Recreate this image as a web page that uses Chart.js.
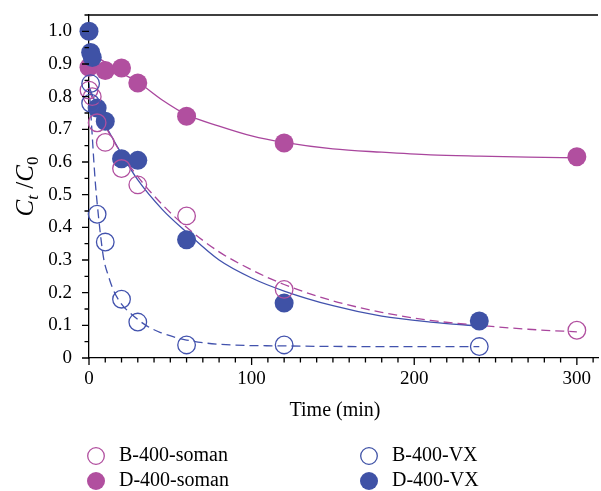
<!DOCTYPE html>
<html>
<head>
<meta charset="utf-8">
<script src="https://cdn.jsdelivr.net/npm/chart.js@4.4.0/dist/chart.umd.min.js"></script>
<style>
  html, body { margin: 0; padding: 0; background: #fff; }
</style>
</head>
<body>
<canvas id="myChart" width="601" height="491"></canvas>
<script>
// measured points (time in min, Ct/C0)
const tBSoman = [0, 2, 5, 10, 20, 30, 60, 120, 300];
const yBSoman = [0.82, 0.80, 0.72, 0.66, 0.58, 0.53, 0.435, 0.21, 0.085];

const tDSoman = [0, 10, 20, 30, 60, 120, 300];
const yDSoman = [0.89, 0.88, 0.888, 0.842, 0.74, 0.658, 0.616];

const tBVX = [1, 1, 5, 10, 20, 30, 60, 120, 240];
const yBVX = [0.84, 0.78, 0.44, 0.355, 0.18, 0.11, 0.04, 0.04, 0.035];

const tDVX = [0, 1, 2, 5, 10, 20, 30, 60, 120, 240];
const yDVX = [1.0, 0.935, 0.92, 0.765, 0.725, 0.61, 0.605, 0.362, 0.168, 0.113];

// fitted curves
const fitTBSoman = [0, 5, 10, 20, 30, 45, 60, 80, 100, 120, 150, 180, 210, 240, 270, 300];
const fitYBSoman = [0.82, 0.76, 0.71, 0.625, 0.555, 0.47, 0.40, 0.325, 0.27, 0.225, 0.175, 0.14, 0.115, 0.10, 0.088, 0.08];

const fitTDSoman = [0, 10, 20, 30, 45, 60, 80, 100, 120, 150, 180, 210, 240, 270, 300];
const fitYDSoman = [0.937, 0.905, 0.872, 0.845, 0.79, 0.745, 0.71, 0.68, 0.66, 0.64, 0.63, 0.622, 0.618, 0.615, 0.613];

const fitTBVX = [0, 1, 2, 3, 4, 5, 7, 9, 12, 15, 20, 26, 35, 44, 60, 80, 120, 180, 240];
const fitYBVX = [0.84, 0.76, 0.68, 0.6, 0.53, 0.475, 0.38, 0.305, 0.25, 0.208, 0.165, 0.135, 0.1, 0.078, 0.055, 0.042, 0.037, 0.035, 0.035];

const fitTDVX = [0, 5, 10, 20, 30, 45, 60, 80, 100, 120, 150, 180, 210, 240];
const fitYDVX = [0.83, 0.77, 0.715, 0.625, 0.545, 0.455, 0.385, 0.30, 0.245, 0.205, 0.16, 0.128, 0.11, 0.098];

const seriesNames = ['B-400-soman', 'D-400-soman', 'B-400-VX', 'D-400-VX'];

const xTicks = [0, 100, 200, 300];
const yTicks = [0, 0.1, 0.2, 0.3, 0.4, 0.5, 0.6, 0.7, 0.8, 0.9, 1.0];
const xTitle = 'Time (min)';

//colors
const magenta = '#b14f9f';
const magentaLine = '#a9469d';
const blue = '#3f52a6';
const blueLine = '#4252ad';

const fontFamily = "'Liberation Serif', 'DejaVu Serif', serif";

function toPoints(xs, ys){
    return xs.map((x, i) => ({x: x, y: ys[i]}));
}

function markerSet(label, xs, ys, color, filled, order){
    return {
        label: label,
        data: toPoints(xs, ys),
        showLine: false,
        pointRadius: filled ? 9.5 : 8.8,
        pointBorderWidth: filled ? 0 : 1.3,
        pointBorderColor: color,
        pointBackgroundColor: filled ? color : 'rgba(0,0,0,0)',
        clip: false,
        order: order
    };
}

function fitSet(xs, ys, color, dashed){
    return {
        label: '',
        data: toPoints(xs, ys),
        showLine: true,
        pointRadius: 0,
        borderColor: color,
        borderWidth: 1.3,
        borderDash: dashed ? [9, 5] : [],
        cubicInterpolationMode: 'monotone',
        fill: false,
        order: 10
    };
}

// ticks (major + minor), top frame line and x title
const tickPlugin = {
    id: 'ticks',
    afterDraw(chart){
        const ctx = chart.ctx;
        const xs = chart.scales.x, ys = chart.scales.y;
        const area = chart.chartArea;
        ctx.save();
        ctx.strokeStyle = '#000';
        ctx.lineWidth = 1.3;
        ctx.beginPath();
        for (let v = 0; v <= 310; v += 10){
            const px = xs.getPixelForValue(v);
            const len = (v % 100 === 0) ? 7 : 4.5;
            ctx.moveTo(px, area.bottom);
            ctx.lineTo(px, area.bottom + len);
        }
        for (let i = 0; i <= 21; i++){
            const v = i * 0.05;
            const py = ys.getPixelForValue(v);
            const len = (i % 2 === 0) ? 7 : 4.5;
            ctx.moveTo(area.left, py);
            ctx.lineTo(area.left - len, py);
        }
        ctx.moveTo(area.left, area.top);
        ctx.lineTo(area.right, area.top);
        ctx.stroke();

        ctx.fillStyle = '#000';
        ctx.font = '20px ' + fontFamily;
        ctx.textAlign = 'center';
        ctx.textBaseline = 'middle';
        ctx.fillText(xTitle, 335, 411);
        ctx.restore();
    }
};

// y axis title C_t / C_0
const yTitlePlugin = {
    id: 'ytitle',
    afterDraw(chart){
        const ctx = chart.ctx;
        const area = chart.chartArea;
        const parts = [
            {t: 'C', f: 'italic 25px ' + fontFamily, dy: 0},
            {t: 't', f: 'italic 17px ' + fontFamily, dy: 5},
            {t: ' /', f: '25px ' + fontFamily, dy: 0},
            {t: 'C', f: 'italic 25px ' + fontFamily, dy: 0},
            {t: '0', f: '17px ' + fontFamily, dy: 5}
        ];
        ctx.save();
        ctx.translate(33, (area.top + area.bottom) / 2);
        ctx.rotate(-Math.PI / 2);
        ctx.fillStyle = '#000';
        ctx.textBaseline = 'alphabetic';
        let total = 0;
        parts.forEach(p => { ctx.font = p.f; p.w = ctx.measureText(p.t).width; total += p.w; });
        let x = -total / 2;
        parts.forEach(p => {
            ctx.font = p.f;
            ctx.fillText(p.t, x, p.dy);
            x += p.w;
        });
        ctx.restore();
    }
};

// legend, two columns under the plot
const legendPlugin = {
    id: 'legend2col',
    afterDraw(chart){
        const ctx = chart.ctx;
        const items = [
            {name: seriesNames[0], color: magenta, filled: false, x: 96, y: 456},
            {name: seriesNames[1], color: magenta, filled: true, x: 96, y: 481},
            {name: seriesNames[2], color: blue, filled: false, x: 369, y: 456},
            {name: seriesNames[3], color: blue, filled: true, x: 369, y: 481}
        ];
        ctx.save();
        ctx.font = '20px ' + fontFamily;
        ctx.textBaseline = 'middle';
        ctx.textAlign = 'left';
        items.forEach(it => {
            ctx.beginPath();
            ctx.arc(it.x, it.y, it.filled ? 9 : 8.3, 0, Math.PI * 2);
            if (it.filled){
                ctx.fillStyle = it.color;
                ctx.fill();
            } else {
                ctx.strokeStyle = it.color;
                ctx.lineWidth = 1.3;
                ctx.stroke();
            }
            ctx.fillStyle = '#000';
            ctx.fillText(it.name, it.x + 23, it.y);
        });
        ctx.restore();
    }
};

const ctx = document.getElementById('myChart').getContext('2d');
const myChart = new Chart(ctx, {
    type: 'scatter',
    data: {
        datasets: [
            markerSet(seriesNames[2], tBVX, yBVX, blueLine, false, 1),
            markerSet(seriesNames[0], tBSoman, yBSoman, magenta, false, 2),
            markerSet(seriesNames[3], tDVX, yDVX, blue, true, 3),
            markerSet(seriesNames[1], tDSoman, yDSoman, magenta, true, 4),
            fitSet(fitTBSoman, fitYBSoman, magentaLine, true),
            fitSet(fitTDSoman, fitYDSoman, magentaLine, false),
            fitSet(fitTBVX, fitYBVX, blueLine, true),
            fitSet(fitTDVX, fitYDVX, blueLine, false)
        ]
    },
    options: {
        responsive: false,
        animation: false,
        devicePixelRatio: 1,
        events: [],
        layout: {autoPadding: false, padding: {left: 0, right: 3, top: 15, bottom: 61}},
        plugins: {
            legend: {display: false},
            tooltip: {enabled: false}
        },
        scales: {
            x: {
                type: 'linear',
                min: 0,
                max: 313,
                z: 1,
                // invisible tick marks only push the labels down
                grid: {display: false, drawTicks: true, tickLength: 10, tickColor: 'rgba(0,0,0,0)'},
                border: {display: true, color: '#000', width: 1.3},
                afterBuildTicks: scale => { scale.ticks = xTicks.map(v => ({value: v})); },
                afterFit: scale => {
                    scale.height = 72;
                    scale.paddingLeft = 0;
                    scale.paddingRight = 0;
                },
                ticks: {
                    color: '#000',
                    padding: 0,
                    maxRotation: 0,
                    autoSkip: false,
                    font: {family: fontFamily, size: 19}
                }
            },
            y: {
                type: 'linear',
                min: 0,
                max: 1.05,
                z: 1,
                grid: {display: false, drawTicks: false},
                border: {display: true, color: '#000', width: 1.3},
                afterBuildTicks: scale => { scale.ticks = yTicks.map(v => ({value: v})); },
                afterFit: scale => {
                    scale.width = 89;
                    scale.paddingTop = 0;
                    scale.paddingBottom = 0;
                },
                ticks: {
                    color: '#000',
                    padding: 17,
                    autoSkip: false,
                    font: {family: fontFamily, size: 19},
                    callback: v => v === 0 ? '0' : v.toFixed(1)
                }
            }
        }
    },
    plugins: [tickPlugin, yTitlePlugin, legendPlugin]
});
</script>
</body>
</html>
